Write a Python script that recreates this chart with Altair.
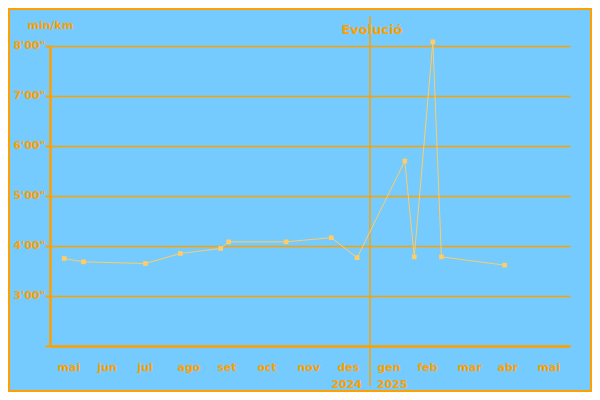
import json
import calendar
import altair as alt
import pandas as pd

# ---- data ----
dates = ["2024-05-12", "2024-05-27", "2024-07-13", "2024-08-09", "2024-09-09",
         "2024-09-15", "2024-10-29", "2024-12-02", "2024-12-22", "2025-01-28",
         "2025-02-04", "2025-02-17", "2025-02-23", "2025-04-12"]
pace_sec = [225, 221, 219, 231, 237, 245, 245, 250, 226, 342, 227, 485, 227, 217]

month_labels = ["mai", "jun", "jul", "ago", "set", "oct", "nov", "des",
                "gen", "feb", "mar", "abr", "mai"]
y_values = [2, 3, 4, 5, 6, 7, 8]
y_labels = ["", "3'00\"", "4'00\"", "5'00\"", "6'00\"", "7'00\"", "8'00\""]
years = ["2024", "2025"]
year_break = 8  # month index where 2025 begins
title_text = "Evolució"
unit_text = "min/km"

BG = "#75CBFD"
ORANGE = "#FFA000"
LIGHT = "#FFCC66"
FONT = "DejaVu Sans"


def month_pos(d):
    y, m, dd = map(int, d.split("-"))
    idx = (y - 2024) * 12 + (m - 5)
    dim = calendar.monthrange(y, m)[1]
    return idx + (dd - 1) / dim


df = pd.DataFrame({
    "m": [month_pos(d) for d in dates],
    "pace": [s / 60 for s in pace_sec],
})
one = pd.DataFrame({"k": [0]})

x_scale = alt.Scale(domain=[0, len(month_labels)], nice=False, zero=False)
y_scale = alt.Scale(domain=[2, 8], nice=False, zero=False)

x_axis = alt.Axis(
    values=list(range(len(month_labels))),
    labelExpr=json.dumps(month_labels) + "[datum.value]",
    ticks=False, grid=False, title=None,
    domainColor=ORANGE, domainWidth=2.5,
    labelAlign="left", labelBaseline="alphabetic", labelOffset=7,
    labelPadding=24, labelFont=FONT, labelFontWeight="bold",
    labelFontSize=11, labelColor=ORANGE,
)
y_axis = alt.Axis(
    values=y_values,
    labelExpr=json.dumps(y_labels) + "[datum.value - 2]",
    grid=True, gridColor=ORANGE, gridWidth=1.5,
    domainColor=ORANGE, domainWidth=2.5,
    ticks=True, tickSize=5, tickWidth=2, tickColor=ORANGE,
    labelAlign="right", labelBaseline="middle", labelPadding=0, labelOffset=-1,
    labelFont=FONT, labelFontWeight="bold", labelFontSize=11, labelColor=ORANGE,
    title=unit_text, titleAngle=0, titleX=-23, titleY=-21,
    titleAlign="left", titleBaseline="middle",
    titleFont=FONT, titleFontWeight="bold", titleFontSize=11, titleColor=ORANGE,
)

base = alt.Chart(df)

line = base.mark_line(color=LIGHT, strokeWidth=1, clip=False).encode(
    x=alt.X("m:Q", scale=x_scale, axis=x_axis),
    y=alt.Y("pace:Q", scale=y_scale, axis=y_axis),
)
points = base.mark_square(color=LIGHT, size=22, opacity=1, clip=False).encode(
    x=alt.X("m:Q", scale=x_scale),
    y=alt.Y("pace:Q", scale=y_scale),
)

sep = alt.Chart(one).mark_rule(color=ORANGE, strokeWidth=1.5, clip=False).encode(
    x=alt.datum(year_break), y=alt.value(-30), y2=alt.value(340)
)

title = alt.Chart(one).mark_text(
    text=title_text, font=FONT, fontWeight="bold", fontSize=13, color=ORANGE,
    align="center", baseline="middle", dx=2
).encode(x=alt.datum(year_break), y=alt.value(-16))

year_left = alt.Chart(one).mark_text(
    text=years[0], font=FONT, fontWeight="bold", fontSize=11, color=ORANGE,
    align="right", baseline="alphabetic", dx=-8
).encode(x=alt.datum(year_break), y=alt.value(342))
year_right = alt.Chart(one).mark_text(
    text=years[1], font=FONT, fontWeight="bold", fontSize=11, color=ORANGE,
    align="left", baseline="alphabetic", dx=7
).encode(x=alt.datum(year_break), y=alt.value(342))

border = alt.Chart(one).mark_rect(
    filled=False, stroke=ORANGE, strokeWidth=2, clip=False
).encode(x=alt.value(-41), x2=alt.value(541), y=alt.value(-37), y2=alt.value(345))

chart = alt.layer(border, sep, line, points, title, year_left, year_right).properties(
    width=520, height=300,
    autosize=alt.AutoSizeParams(type="none"),
    padding={"left": 42, "top": 38, "right": 22, "bottom": 46},
    background=BG,
).configure_view(stroke=None)

chart.save("out.html", embed_options={"renderer": "svg", "actions": False})
